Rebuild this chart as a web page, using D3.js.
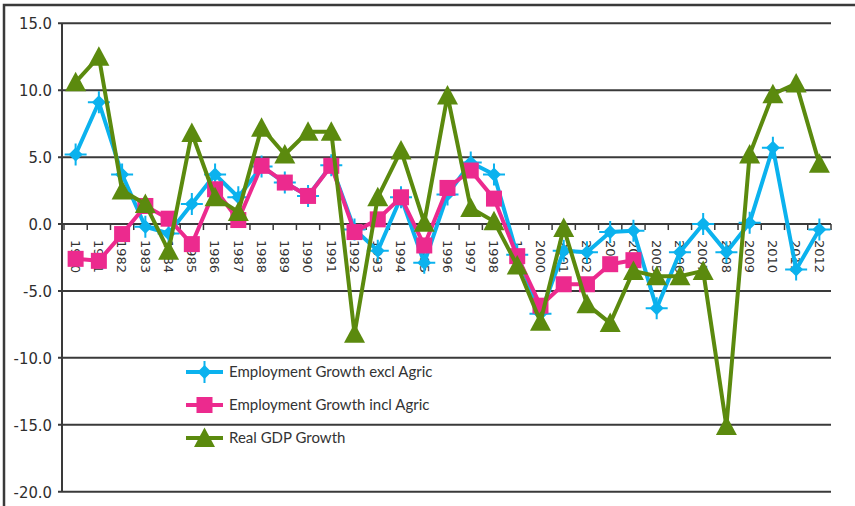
<!DOCTYPE html>
<html>
<head>
<meta charset="utf-8">
<script src="https://cdn.jsdelivr.net/npm/d3@7"></script>
<style>
  body { margin: 0; background: #fff; }
  svg { display: block; }
</style>
</head>
<body>
<script>
// categories
const years = ['1980','1981','1982','1983','1984','1985','1986','1987','1988','1989',
  '1990','1991','1992','1993','1994','1995','1996','1997','1998','1999',
  '2000','2001','2002','2003','2004','2005','2006','2007','2008','2009',
  '2010','2011','2012'];

// series values
const exclAgric = [5.2, 9.1, 3.7, -0.2, -0.7, 1.5, 3.7, 2.0, 4.3, 3.1,
  2.1, 4.4, -0.4, -2.0, 2.0, -2.9, 2.2, 4.6, 3.7, -2.3,
  -6.7, -2.0, -2.1, -0.6, -0.5, -6.3, -2.1, 0.0, -2.1, 0.1,
  5.7, -3.4, -0.4];
const inclAgric = [-2.6, -2.75, -0.75, 1.35, 0.4, -1.5, 2.6, 0.3, 4.35, 3.1,
  2.1, 4.35, -0.6, 0.35, 2.0, -1.6, 2.7, 4.0, 1.9, -2.4,
  -6.1, -4.5, -4.5, -3.0, -2.7, null, null, null, null, null,
  null, null, null];
const gdpGrowth = [10.6, 12.5, 2.5, 1.5, -2.0, 6.8, 2.0, 0.9, 7.2, 5.2,
  6.9, 6.9, -8.2, 2.0, 5.5, 0.1, 9.6, 1.2, 0.2, -3.1,
  -7.3, -0.3, -6.0, -7.4, -3.5, -3.9, -3.9, -3.5, -15.1, 5.2,
  9.7, 10.5, 4.5];

const yTicks = [15, 10, 5, 0, -5, -10, -15, -20];
const seriesNames = ['Employment Growth excl Agric', 'Employment Growth incl Agric', 'Real GDP Growth'];

const W = 855, H = 506;
const svg = d3.select('body').append('svg')
  .attr('width', W)
  .attr('height', H);

const x = d3.scaleBand().domain(years).range([64, 831]);
const y = d3.scaleLinear().domain([-20, 15]).range([491.7, 23.3]);

// outer frame (top + left)
svg.append('path')
  .attr('d', `M4,${H} L4,5 L${W},5`)
  .attr('fill', 'none')
  .attr('stroke', '#3a3a3a')
  .attr('stroke-width', 2.5);

// gridlines
svg.selectAll('.grid')
  .data(yTicks)
  .join('line')
  .attr('class', 'grid')
  .attr('x1', 58).attr('x2', 831)
  .attr('y1', d => y(d)).attr('y2', d => y(d))
  .attr('stroke', '#3a3a3a')
  .attr('stroke-width', 2);

// y axis line
svg.append('line')
  .attr('x1', 62).attr('x2', 62)
  .attr('y1', y(15)).attr('y2', y(-20))
  .attr('stroke', '#3a3a3a')
  .attr('stroke-width', 2);

// y labels
svg.selectAll('.ylab')
  .data(yTicks)
  .join('text')
  .attr('class', 'ylab')
  .attr('x', 52)
  .attr('y', d => y(d))
  .attr('dy', '0.36em')
  .attr('text-anchor', 'end')
  .attr('font-family', '"Liberation Sans Narrow", "DejaVu Sans Condensed", sans-serif')
  .attr('font-size', 16.5)
  .attr('fill', '#2e2e2e')
  .text(d => d.toFixed(1));

// x ticks on zero line
const bounds = years.map(d => x(d)).concat([x(years[years.length - 1]) + x.bandwidth()]);
svg.selectAll('.xtick')
  .data(bounds)
  .join('line')
  .attr('class', 'xtick')
  .attr('x1', d => d).attr('x2', d => d)
  .attr('y1', y(0)).attr('y2', y(0) + 6)
  .attr('stroke', '#3a3a3a')
  .attr('stroke-width', 1.5);

// year labels, rotated
svg.selectAll('.xlab')
  .data(years)
  .join('text')
  .attr('class', 'xlab')
  .attr('transform', d => `translate(${x(d) + x.bandwidth() / 2},${y(0) + 16}) rotate(90)`)
  .attr('dy', '0.36em')
  .attr('font-family', '"DejaVu Sans", sans-serif')
  .attr('font-size', 13)
  .attr('fill', '#333')
  .text(d => d);

// markers
const diamondPath = 'M0,-7L7,0L0,7L-7,0Z';
const crossPath = 'M0,-11V11M-11,0H11';
const trianglePath = 'M0,-10.5L10.5,9L-10.5,9Z';

function drawMarker(g, kind, color) {
  if (kind === 'diamond') {
    g.append('path').attr('d', crossPath).attr('stroke', color).attr('stroke-width', 2);
    g.append('path').attr('d', diamondPath).attr('fill', color);
  } else if (kind === 'square') {
    g.append('rect').attr('x', -8).attr('y', -8).attr('width', 16).attr('height', 16).attr('fill', color);
  } else {
    g.append('path').attr('d', trianglePath).attr('fill', color);
  }
}

const series = [
  { name: seriesNames[0], values: exclAgric, color: '#0bb2ee', kind: 'diamond' },
  { name: seriesNames[1], values: inclAgric, color: '#ec2a8e', kind: 'square' },
  { name: seriesNames[2], values: gdpGrowth, color: '#5b8a0e', kind: 'triangle' }
];

const line = d3.line()
  .defined(d => d.v != null)
  .x(d => x(d.year) + x.bandwidth() / 2)
  .y(d => y(d.v));

series.forEach(s => {
  const pts = years.map((yr, i) => ({ year: yr, v: s.values[i] }));
  svg.append('path')
    .datum(pts)
    .attr('d', line)
    .attr('fill', 'none')
    .attr('stroke', s.color)
    .attr('stroke-width', 4)
    .attr('stroke-linejoin', 'round');
  svg.append('g')
    .selectAll('g')
    .data(pts.filter(d => d.v != null))
    .join('g')
    .attr('transform', d => `translate(${x(d.year) + x.bandwidth() / 2},${y(d.v)})`)
    .each(function () { drawMarker(d3.select(this), s.kind, s.color); });
});

// legend
const legend = svg.append('g').attr('transform', 'translate(186,372)');
series.forEach((s, i) => {
  const row = legend.append('g').attr('transform', `translate(0,${i * 33})`);
  row.append('line')
    .attr('x1', 0).attr('x2', 37)
    .attr('y1', 0).attr('y2', 0)
    .attr('stroke', s.color)
    .attr('stroke-width', 4);
  drawMarker(row.append('g').attr('transform', 'translate(18.5,0)'), s.kind, s.color);
  row.append('text')
    .attr('x', 43)
    .attr('dy', '0.35em')
    .attr('font-family', 'Lato, "Noto Sans", sans-serif')
    .attr('font-size', 15)
    .attr('fill', '#333')
    .text(s.name);
});
</script>
</body>
</html>
